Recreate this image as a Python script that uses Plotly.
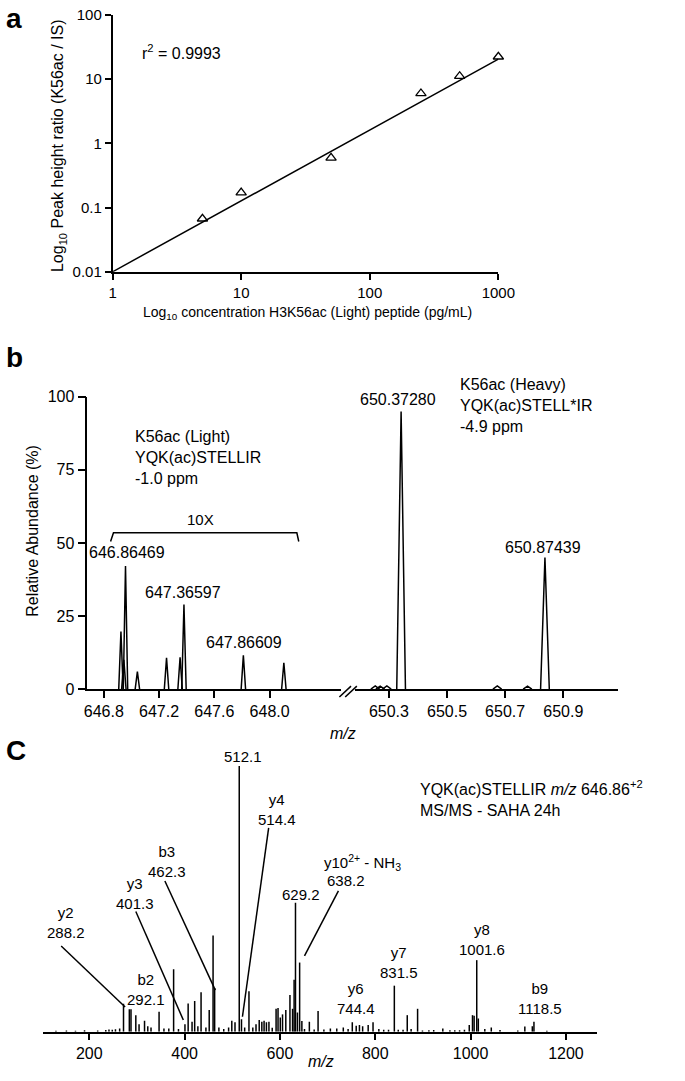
import plotly.graph_objects as go

W, H = 685, 1081

# ---- panel a: calibration curve ----
conc_pg_ml = [5, 10, 50, 250, 500, 1000]
peak_ratio = [0.067, 0.171, 0.593, 5.98, 11.1, 22.3]
fit_conc = [1, 1000]
fit_ratio = [0.01, 20.5]
a_xticks = [1, 10, 100, 1000]
a_yticks = [0.01, 0.1, 1, 10, 100]

# ---- panel b: MS1 spectrum (light / heavy peptide) ----
light_mz = [646.924, 646.945, 646.957, 647.043, 647.254, 647.352, 647.380, 647.810, 648.103]
light_int = [19.7, 10.0, 42.1, 6.0, 10.7, 10.9, 28.9, 11.6, 9.0]
heavy_mz = [650.253, 650.270, 650.293, 650.342, 650.673, 650.777, 650.837]
heavy_int = [1.1, 1.0, 1.1, 95.0, 1.1, 1.0, 45.0]
light_xticks = [646.8, 647.2, 647.6, 648.0]
heavy_xticks = [650.3, 650.5, 650.7, 650.9]
b_yticks = [0, 25, 50, 75, 100]

# ---- panel c: MS/MS spectrum ----
msms_mz = [130, 152, 171, 190, 217.6, 234.6, 241.3, 248.2, 254.9, 263.7,
           271.8, 284.0, 287.5, 297.6, 304.4, 315.9, 322.7, 329.5, 346.4, 356.6,
           366.8, 376.9, 387.1, 400.7, 407.4, 415.6, 421.1, 427.8, 434.5, 444.7,
           451.6, 459.7, 463.0, 471.9, 482.1, 492.3, 499.0, 505.7, 514.6, 519.3,
           526.0, 535.0, 543.1, 549.8, 556.5, 562.0, 566.7, 571.6, 576.9, 583.8,
           591.9, 596.0, 600.7, 605.4, 612.3, 621.0, 626.5, 629.7, 632.6, 636.7,
           641.3, 646.0, 651.5, 661.7, 671.8, 680.0, 692.2, 705.8, 719.2, 732.9,
           743.0, 751.8, 760.0, 766.8, 773.5, 785.1, 795.3, 807.5, 817.7, 827.8,
           840.0, 848.2, 858.3, 867.1, 875.2, 888.8, 899.0, 912.5, 922.6, 941.7,
           956.6, 966.8, 976.9, 987.1, 997.2, 1004.0, 1007.4, 1012.9, 1016.2, 1029.8,
           1043.4, 1061.7, 1099.0, 1113.8, 1129.5, 1132.9, 1160.0]
msms_int = [0.3, 0.4, 0.3, 0.5, 0.4, 0.6, 0.8, 0.7, 0.9, 1.2,
            10.5, 8.4, 8.4, 6.2, 2.8, 4.1, 2.0, 1.6, 7.5, 1.2,
            1.2, 23.5, 1.0, 2.8, 10.6, 3.7, 11.5, 2.0, 14.8, 1.6,
            8.1, 36.2, 16.4, 1.6, 1.0, 1.6, 4.1, 3.5, 100, 4.7,
            1.6, 15.2, 1.6, 2.8, 4.4, 3.7, 4.1, 3.5, 3.7, 1.5,
            8.6, 8.9, 5.3, 6.5, 8.1, 13.8, 8.6, 19.5, 48.5, 7.2,
            26.0, 4.0, 1.0, 3.7, 0.8, 7.8, 0.8, 1.2, 1.2, 1.6,
            1.0, 3.5, 2.2, 2.5, 2.0, 2.5, 3.5, 1.0, 0.7, 0.7,
            17.3, 0.7, 0.7, 6.2, 1.0, 8.6, 0.4, 0.5, 0.6, 1.2,
            0.5, 0.5, 0.5, 0.7, 2.5, 6.2, 6.0, 26.9, 4.9, 1.0,
            1.6, 0.6, 0.4, 1.9, 2.0, 3.7, 0.3]
c_xticks = [200, 400, 600, 800, 1000, 1200]
assert len(msms_mz) == len(msms_int)

SANS = "Liberation Sans, Arial, sans-serif"


def fx(p):
    return p / W


def fy(p):
    return 1 - p / H


def profile(centres, heights, half_width):
    xs, ys = [], []
    for c, h in zip(centres, heights):
        xs += [c - half_width, c, c + half_width, None]
        ys += [0, h, 0, None]
    return xs, ys


def sticks(mz, inten):
    xs, ys = [], []
    for m, i in zip(mz, inten):
        xs += [m, m, None]
        ys += [0, i, None]
    return xs, ys


def note(text, x, y, xref="paper", yref="paper", size=15,
         xanchor="center", yanchor="middle", **kw):
    return dict(text=text, x=x, y=y, xref=xref, yref=yref, showarrow=False,
                xanchor=xanchor, yanchor=yanchor,
                font=dict(size=size, color="black", family=SANS), **kw)


fig = go.Figure()

# panel a
fig.add_trace(go.Scatter(x=fit_conc, y=fit_ratio, mode="lines",
                         line=dict(color="black", width=1.5),
                         xaxis="x", yaxis="y"))
fig.add_trace(go.Scatter(x=conc_pg_ml, y=peak_ratio, mode="markers",
                         cliponaxis=False,
                         marker=dict(symbol="triangle-up-open", size=9,
                                     color="black", line=dict(width=1.3)),
                         xaxis="x", yaxis="y"))

# panel b
lx, ly = profile(light_mz, light_int, 0.016)
fig.add_trace(go.Scatter(x=lx, y=ly, mode="lines",
                         line=dict(color="black", width=1.5),
                         xaxis="x2", yaxis="y2"))
hx, hy = profile(heavy_mz, heavy_int, 0.015)
fig.add_trace(go.Scatter(x=hx, y=hy, mode="lines",
                         line=dict(color="black", width=1.5),
                         xaxis="x3", yaxis="y2"))

# panel c
sx, sy = sticks(msms_mz, msms_int)
fig.add_trace(go.Scatter(x=sx, y=sy, mode="lines",
                         line=dict(color="black", width=1.5),
                         xaxis="x4", yaxis="y3"))

axis_common = dict(showgrid=False, zeroline=False, showline=True,
                   linecolor="black", linewidth=1.5, ticks="outside",
                   tickcolor="black", tickwidth=1.5, color="black")

fig.update_layout(
    width=W, height=H,
    margin=dict(l=0, r=0, t=0, b=0),
    plot_bgcolor="white", paper_bgcolor="white",
    showlegend=False,
    # panel a
    xaxis=dict(axis_common, type="log", range=[0, 3],
               domain=[fx(112), fx(510)], anchor="y",
               tickvals=a_xticks, ticktext=[str(v) for v in a_xticks],
               ticklen=6, tickfont=dict(size=15, family=SANS)),
    yaxis=dict(axis_common, type="log", range=[-2, 2],
               domain=[fy(268), fy(7)], anchor="x",
               tickvals=a_yticks, ticktext=[str(v) for v in a_yticks],
               ticklen=6, tickfont=dict(size=15, family=SANS)),
    # panel b
    xaxis2=dict(axis_common, range=[646.681, 648.519],
                domain=[fx(86), fx(348)], anchor="y2",
                tickvals=light_xticks, ticktext=["%.1f" % v for v in light_xticks],
                ticklen=7, tickfont=dict(size=16, family=SANS)),
    xaxis3=dict(axis_common, range=[650.183, 651.087],
                domain=[fx(362), fx(633)], anchor="y2",
                tickvals=heavy_xticks, ticktext=["%.1f" % v for v in heavy_xticks],
                ticklen=7, tickfont=dict(size=16, family=SANS)),
    yaxis2=dict(axis_common, range=[0, 100],
                domain=[fy(692), fy(395)], anchor="x2",
                tickvals=b_yticks, ticklen=8,
                tickfont=dict(size=16, family=SANS)),
    # panel c
    xaxis4=dict(axis_common, range=[102.4, 1265.7], linewidth=2,
                domain=[fx(40), fx(612)], anchor="y3",
                tickvals=c_xticks, ticklen=6,
                tickfont=dict(size=16, family=SANS)),
    yaxis3=dict(visible=False, range=[0, 105],
                domain=[fy(1040), fy(756.5)], anchor="x4"),
)

ann = []
# panel letters
ann.append(note("<b>a</b>", fx(0), fy(11), size=28, xanchor="left"))
ann.append(note("<b>b</b>", fx(0), fy(355), size=28, xanchor="left"))
ann.append(note("<b>C</b>", fx(0), fy(754), size=28, xanchor="left"))

# panel a texts
ann.append(note("r<sup>2</sup> = 0.9993", fx(140), fy(45), size=16, xanchor="left"))
ann.append(note("Log<sub>10</sub> Peak height ratio (K56ac / IS)", fx(57), fy(140),
                size=16, textangle=-90))
ann.append(note("Log<sub>10</sub> concentration H3K56ac (Light) peptide (pg/mL)",
                fx(313), fy(310), size=14))

# panel b texts
ann.append(note("Relative Abundance (%)", fx(30), fy(531), size=16, textangle=-90))
ann.append(note("<i>m/z</i>", fx(350), fy(737), size=16))
ann.append(note("K56ac (Light)<br>YQK(ac)STELLIR<br>-1.0 ppm", 647.011, 79.1,
                "x2", "y2", size=16, xanchor="left", align="left"))
ann.append(note("10X", 647.502, 57.9, "x2", "y2", size=15))
ann.append(note("646.86469", 646.968, 46.8, "x2", "y2", size=16))
ann.append(note("647.36597", 647.375, 33.0, "x2", "y2", size=16))
ann.append(note("647.86609", 647.811, 15.8, "x2", "y2", size=16))
ann.append(note("650.37280", 650.333, 99.0, "x3", "y2", size=16))
ann.append(note("650.87439", 650.830, 48.5, "x3", "y2", size=16))
ann.append(note("K56ac (Heavy)<br>YQK(ac)STELL*IR<br>-4.9 ppm", 650.537, 97.0,
                "x3", "y2", size=16, xanchor="left", align="left"))

# panel c texts
ann.append(note("<i>m/z</i>", fx(327), fy(1070), size=16))
ann.append(note("YQK(ac)STELLIR <i>m/z</i> 646.86<sup>+2</sup><br>MS/MS - SAHA 24h",
                889.5, 87.8, "x4", "y3", size=16, xanchor="left", align="left"))
ann.append(note("512.1", 523.4, 103.7, "x4", "y3"))
ann.append(note("y4<br>514.4", 594.6, 83.7, "x4", "y3"))
ann.append(note("b3<br>462.3", 362.7, 64.1, "x4", "y3"))
ann.append(note("y3<br>401.3", 295.6, 51.9, "x4", "y3"))
ann.append(note("y2<br>288.2", 151.2, 41.1, "x4", "y3"))
ann.append(note("b2<br>292.1", 320.0, 15.9, "x4", "y3"))
ann.append(note("629.2", 643.4, 51.5, "x4", "y3"))
ann.append(note("y10<sup>2+</sup> - NH<sub>3</sub>", 773.5, 63.7, "x4", "y3"))
ann.append(note("638.2", 739.0, 57.0, "x4", "y3"))
ann.append(note("y6<br>744.4", 759.3, 12.6, "x4", "y3"))
ann.append(note("y7<br>831.5", 850.8, 25.9, "x4", "y3"))
ann.append(note("y8<br>1001.6", 1023.7, 34.8, "x4", "y3"))
ann.append(note("b9<br>1118.5", 1145.7, 12.6, "x4", "y3"))
fig.update_layout(annotations=ann)

line = dict(color="black", width=1.5)
shapes = []
# 10X bracket
shapes.append(dict(type="path", xref="x2", yref="y2",
                   path="M 646.849 50.5 L 646.870 53.5 L 648.197 53.5 L 648.211 50.5",
                   line=line))
# axis break marks
for x0 in (346, 352):
    shapes.append(dict(type="line", xref="paper", yref="paper",
                       x0=fx(x0), y0=fy(700), x1=fx(x0 + 12), y1=fy(689), line=line))
# leader lines panel c
leaders = [(141.0, 32.2, 275.2, 9.3), (297.6, 45.2, 397.3, 4.4),
           (358.6, 56.7, 464.4, 15.6), (576.3, 76.7, 521.3, 5.6),
           (722.7, 53.0, 651.5, 28.5)]
for x0, y0, x1, y1 in leaders:
    shapes.append(dict(type="line", xref="x4", yref="y3",
                       x0=x0, y0=y0, x1=x1, y1=y1, line=line))
fig.update_layout(shapes=shapes)

# drop the default body margin so the figure sits at the window origin
fig.write_html("out.html", config={"displayModeBar": False},
               post_script="document.body.style.margin = '0';")
